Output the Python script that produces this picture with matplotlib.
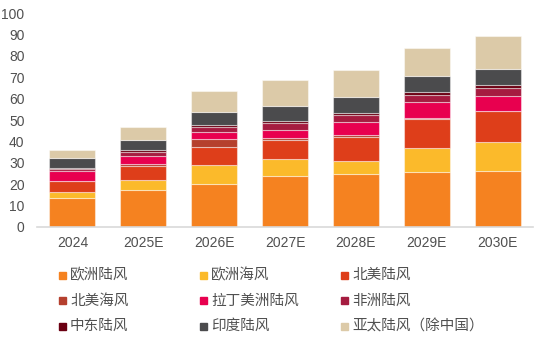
import matplotlib
matplotlib.use('Agg')
import matplotlib.pyplot as plt
from matplotlib.patches import Rectangle
import numpy as np

plt.rcParams['font.family'] = ['Liberation Sans', 'Noto Sans CJK SC', 'DejaVu Sans']

# 数据（从图上读取，单位 GW）
years = ['2024', '2025E', '2026E', '2027E', '2028E', '2029E', '2030E']
series_names = ['欧洲陆风', '欧洲海风', '北美陆风', '北美海风', '拉丁美洲陆风',
                '非洲陆风', '中东陆风', '印度陆风', '亚太陆风（除中国）']
eu_onshore = [13.3, 17.3, 19.9, 23.6, 24.8, 25.5, 26.2]
eu_offshore = [3.0, 4.6, 8.9, 8.0, 6.1, 11.5, 13.6]
na_onshore = [5.1, 6.7, 8.7, 9.0, 11.3, 13.5, 14.3]
na_offshore = [0.2, 0.6, 3.5, 0.8, 0.6, 0.3, 0.3]
latam_onshore = [4.5, 3.9, 3.4, 3.8, 6.1, 7.5, 6.7]
africa_onshore = [1.1, 1.9, 2.3, 3.3, 3.3, 3.4, 3.8]
me_onshore = [0.5, 0.9, 1.1, 0.9, 1.1, 1.6, 1.6]
india_onshore = [4.3, 4.9, 5.9, 7.3, 7.6, 7.5, 7.5]
apac_onshore = [3.9, 5.8, 9.7, 11.9, 12.5, 12.8, 15.4]

data = [eu_onshore, eu_offshore, na_onshore, na_offshore, latam_onshore,
        africa_onshore, me_onshore, india_onshore, apac_onshore]
colors = ['#F58220', '#FBBA2B', '#DE3E1A', '#B5402E', '#E8004F',
          '#A51C40', '#6B0012', '#4B4B4D', '#DCCAA8']

fig = plt.figure(figsize=(5.35, 3.45), dpi=100)
ax = fig.add_axes([37 / 535, 1 - 226.7 / 345, 496 / 535, 213.4 / 345])

x = np.arange(len(years))
bottom = np.zeros(len(years))
for vals, c in zip(data, colors):
    ax.bar(x, vals, width=0.65, bottom=bottom, color=c,
           edgecolor=(1, 1, 1, 0.45), linewidth=0.8, zorder=2)
    bottom += np.array(vals)

ax.set_xlim(-0.5, len(years) - 0.5)
ax.set_ylim(0, 100)
ax.set_yticks(range(0, 101, 10))
ax.set_xticks(x)
ax.set_xticklabels(years)
ax.tick_params(axis='both', length=0, labelsize=10, colors='#505050')
ax.tick_params(axis='y', pad=9)
ax.tick_params(axis='x', pad=7)
for s in ['top', 'right', 'left']:
    ax.spines[s].set_visible(False)
ax.spines['bottom'].set_color('#D9D9D9')
ax.spines['bottom'].set_linewidth(1.2)

# 图例（3列，按行排列）
col_x = [59, 200, 341]
row_y = [275, 300.5, 326]
for i, (name, c) in enumerate(zip(series_names, colors)):
    r, k = divmod(i, 3)
    px, py = col_x[k], row_y[r]
    fig.patches.append(Rectangle((px / 535, 1 - (py + 3.5) / 345), 7 / 535, 7 / 345,
                                 transform=fig.transFigure, color=c, figure=fig))
    fig.text((px + 11) / 535, 1 - py / 345, name, fontsize=10.5, color='#505050',
             va='center', ha='left')

fig.savefig('out.png', dpi=100)
